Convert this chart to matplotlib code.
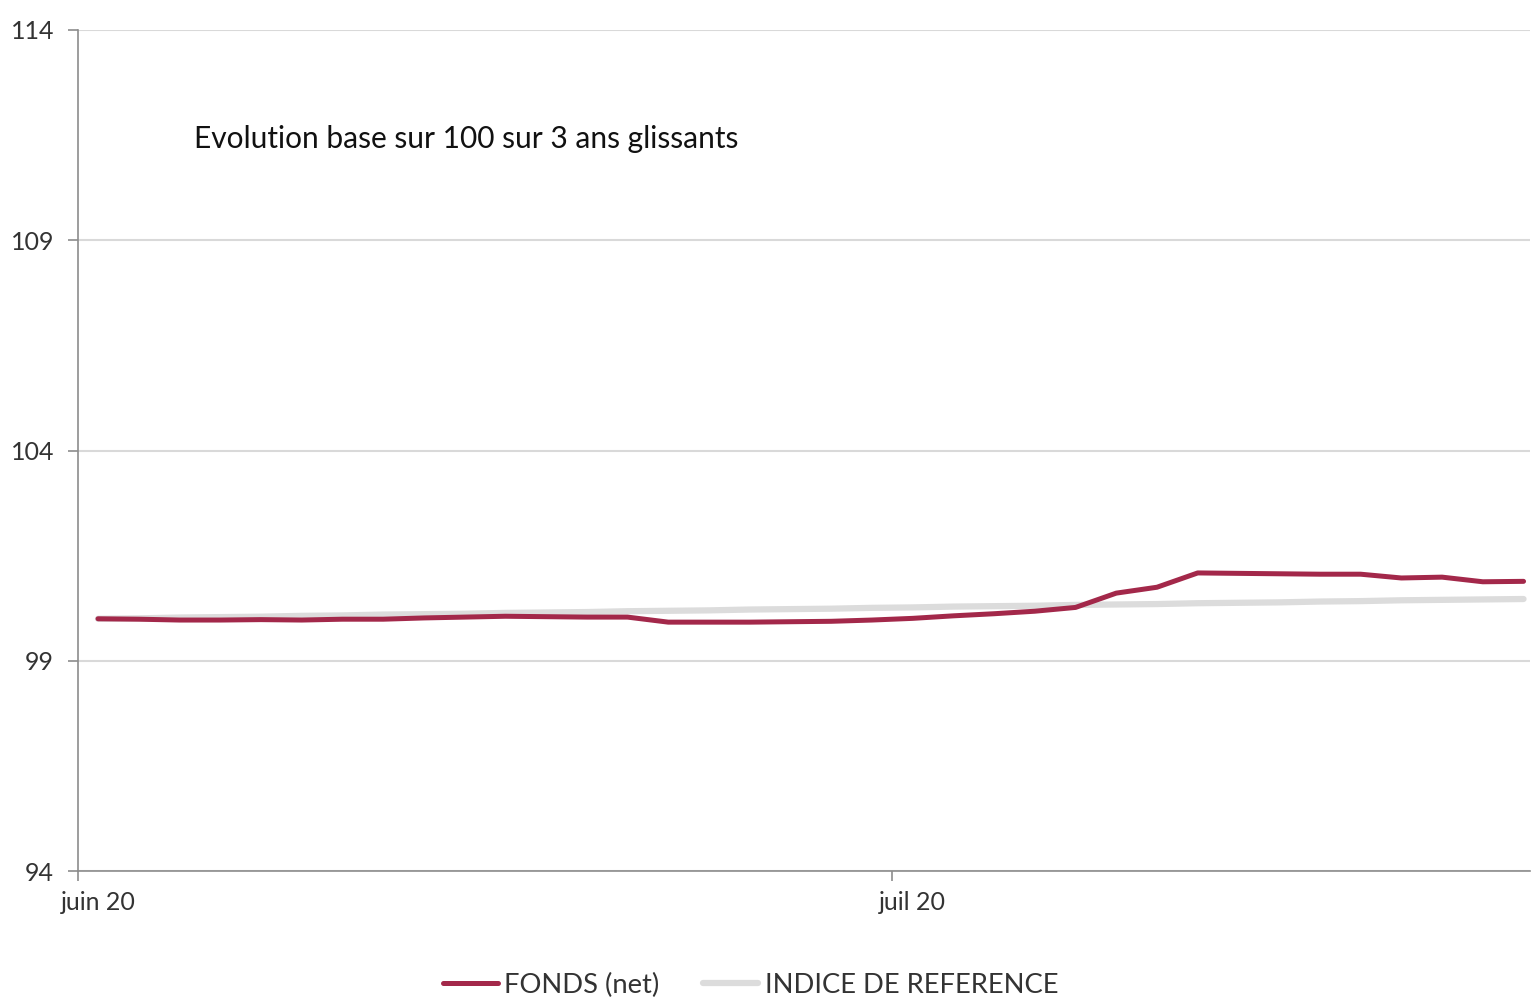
import matplotlib
matplotlib.use("Agg")
import matplotlib.pyplot as plt

plt.rcParams['font.family'] = ['Lato', 'DejaVu Sans']

# one point per trading day, juin -> juil 2020
fonds = [100.00, 99.99, 99.97, 99.97, 99.98, 99.97, 99.99, 99.99, 100.02, 100.04,
         100.06, 100.05, 100.04, 100.04, 99.92, 99.92, 99.92, 99.93, 99.94, 99.97,
         100.01, 100.07, 100.12, 100.18, 100.27, 100.61, 100.75, 101.09, 101.08, 101.07,
         101.06, 101.06, 100.97, 100.99, 100.88, 100.89]
indice = [100.00, 100.01, 100.03, 100.04, 100.05, 100.07, 100.08, 100.10, 100.11, 100.12,
          100.14, 100.15, 100.16, 100.18, 100.19, 100.20, 100.22, 100.23, 100.24, 100.26,
          100.27, 100.29, 100.30, 100.31, 100.33, 100.34, 100.35, 100.37, 100.38, 100.39,
          100.41, 100.42, 100.44, 100.45, 100.46, 100.47]
mois = ["juin 20", "juil 20"]
mois_pos = [0, 20]
y_ticks = [94, 99, 104, 109, 114]

fig = plt.figure(figsize=(15.32, 9.99), dpi=100)
ax = fig.add_axes([0.0507, 0.128, 0.9483, 0.842])

x = list(range(len(fonds)))
ax.plot(x, indice, color="#dcdcdc", lw=4.5, solid_capstyle="round", label="INDICE DE REFERENCE", zorder=2)
ax.plot(x, fonds, color="#a3284a", lw=3.6, solid_capstyle="round", label="FONDS (net)", zorder=3)

ax.set_ylim(94, 114)
ax.set_xlim(-0.5, 35.17)
ax.set_yticks(y_ticks)
ax.set_yticklabels([str(v) for v in y_ticks])
ax.yaxis.grid(True, color="#d9d9d9", lw=1.5)
ax.set_axisbelow(True)

ax.set_xticks([-0.5, 19.5])
ax.set_xticklabels(["", ""])
ax.set_xticks(mois_pos, minor=True)
ax.set_xticklabels(mois, minor=True)
ax.tick_params(axis="x", which="major", length=7, color="#8c8c8c", width=1.2)
ax.tick_params(axis="x", which="minor", length=0, pad=14, labelsize=18, labelcolor="#333333")
ax.tick_params(axis="y", length=7, color="#8c8c8c", width=1.2, pad=10, labelsize=18, labelcolor="#333333")

for s in ["top", "right"]:
    ax.spines[s].set_visible(False)
for s in ["left", "bottom"]:
    ax.spines[s].set_color("#8c8c8c")
    ax.spines[s].set_linewidth(1.2)

ax.text(0.08, 0.87, "Evolution base sur 100 sur 3 ans glissants", transform=ax.transAxes,
        fontsize=21.5, color="#111111", va="center", ha="left")

h, l = ax.get_legend_handles_labels()
fig.legend(h[::-1], l[::-1], loc="center", bbox_to_anchor=(0.49, 0.014), ncol=2, frameon=False,
           fontsize=19.7, handlelength=2.0, handletextpad=0.25, columnspacing=1.6, labelcolor="#333333")

fig.savefig("out.png", dpi=100)
